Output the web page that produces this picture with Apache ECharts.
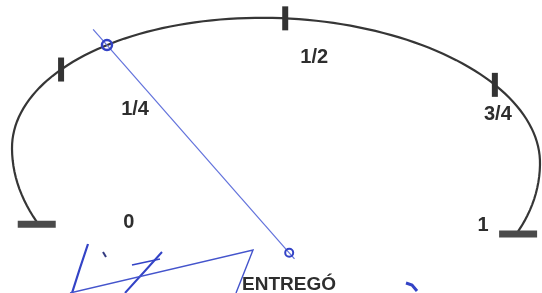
<!DOCTYPE html>
<html>
<head>
<meta charset="utf-8">
<script src="https://cdn.jsdelivr.net/npm/echarts@6/dist/echarts.min.js"></script>
<style>
  html, body { margin: 0; padding: 0; background: #ffffff; }
  #chart { width: 542px; height: 293px; }
</style>
</head>
<body>
<div id="chart"></div>
<script>
// fuel gauge data
var tickLabels = ['0', '1/4', '1/2', '3/4', '1'];
var tickValues = [0, 0.25, 0.5, 0.75, 1];
var needleValue = [0.315];
var caption = 'ENTREGÓ';

// gauge geometry: parametric angle (deg) of each tick on the dial outline
var scaleAngles = [205, 144.5, 88, 34, -23.5];
var lowerStretch = 175 / 139;   // the dial's sides run lower than a plain ellipse
var tilt = 0.0285;              // the scan is a little rotated
var pivot = [0.05, -0.705];
var labelShift = [[92, 1], [74, 40], [29, 39], [3, 30], [-35, -6]];

var chart = echarts.init(document.getElementById('chart'));

function angleOf(v) {
    for (var i = 0; i < tickValues.length - 1; i++) {
        if (v <= tickValues[i + 1]) {
            var f = (v - tickValues[i]) / (tickValues[i + 1] - tickValues[i]);
            return scaleAngles[i] + f * (scaleAngles[i + 1] - scaleAngles[i]);
        }
    }
    return scaleAngles[scaleAngles.length - 1];
}

function toPixel(api, x, y) {
    var p = api.coord([x, y]);
    var c = api.coord([0, 0]);
    p[1] += (p[0] - c[0]) * tilt;
    return p;
}

function dialPoint(api, deg) {
    var r = deg * Math.PI / 180;
    var s = Math.sin(r);
    if (s < 0) s *= lowerStretch;
    return toPixel(api, Math.cos(r), s);
}

var ink = '#363636';
var pen = '#3343c6';

option = {
    backgroundColor: '#ffffff',
    animation: false,
    title: {
        text: caption,
        left: 237,
        top: 270,
        textStyle: {
            fontFamily: 'Liberation Sans',
            fontWeight: 'bold',
            fontSize: 19,
            color: '#2e2e2e'
        }
    },
    grid: { left: 12, top: 18, width: 528, height: 278 },
    xAxis: { type: 'value', min: -1, max: 1, show: false },
    yAxis: { type: 'value', min: -1, max: 1, show: false },
    series: [{
        // dial outline
        type: 'custom',
        clip: false,
        data: [[0, 0]],
        renderItem: function (params, api) {
            var pts = [];
            var a0 = angleOf(0), a1 = angleOf(1);
            for (var k = 0; k <= 120; k++) {
                pts.push(dialPoint(api, a0 + (a1 - a0) * k / 120));
            }
            return {
                type: 'polyline',
                shape: { points: pts },
                style: { stroke: ink, lineWidth: 2.2, fill: null }
            };
        }
    }, {
        // tick marks and labels
        type: 'custom',
        clip: false,
        data: tickValues.map(function (v) { return [v, 0]; }),
        renderItem: function (params, api) {
            var i = params.dataIndex;
            var p = dialPoint(api, angleOf(api.value(0)));
            var end = i === 0 || i === tickValues.length - 1;
            var mark = end
                ? { x: p[0] - 19, y: p[1] - 1, width: 38, height: 7 }
                : { x: p[0] - 3, y: p[1] - 12, width: 6, height: 24 };
            return {
                type: 'group',
                children: [{
                    type: 'rect',
                    shape: mark,
                    style: { fill: end ? '#4a4a4a' : '#333333' }
                }, {
                    type: 'text',
                    x: p[0] + labelShift[i][0],
                    y: p[1] + labelShift[i][1],
                    style: {
                        text: tickLabels[i],
                        align: 'center',
                        verticalAlign: 'middle',
                        font: 'bold 20px "Liberation Sans"',
                        fill: '#2e2e2e'
                    }
                }]
            };
        }
    }, {
        // needle
        type: 'custom',
        clip: false,
        data: needleValue.map(function (v) { return [v, 0]; }),
        renderItem: function (params, api) {
            var tip = dialPoint(api, angleOf(api.value(0)));
            var base = toPixel(api, pivot[0], pivot[1]);
            var dx = tip[0] - base[0], dy = tip[1] - base[1];
            var len = Math.sqrt(dx * dx + dy * dy);
            var ux = dx / len, uy = dy / len;
            return {
                type: 'group',
                children: [{
                    type: 'line',
                    shape: {
                        x1: base[0] - ux * 8, y1: base[1] - uy * 8,
                        x2: tip[0] + ux * 21, y2: tip[1] + uy * 21
                    },
                    style: { stroke: '#6272dc', lineWidth: 1.2 }
                }, {
                    type: 'circle',
                    shape: { cx: tip[0], cy: tip[1], r: 5 },
                    style: { stroke: pen, lineWidth: 2.5, fill: null }
                }, {
                    type: 'circle',
                    shape: { cx: base[0], cy: base[1], r: 4 },
                    style: { stroke: pen, lineWidth: 2, fill: null }
                }]
            };
        }
    }],
    graphic: [
        // signature scribble under the dial
        { type: 'polyline', shape: { points: [[88, 244], [80, 268], [72, 293]] }, style: { stroke: pen, lineWidth: 2.2, fill: null } },
        { type: 'polyline', shape: { points: [[162, 252], [144, 272], [125, 293]] }, style: { stroke: pen, lineWidth: 2, fill: null } },
        { type: 'polyline', shape: { points: [[132, 265], [160, 259]] }, style: { stroke: pen, lineWidth: 1.5, fill: null } },
        { type: 'polyline', shape: { points: [[70, 293], [253, 250], [236, 293]] }, style: { stroke: '#4454cc', lineWidth: 1.4, fill: null } },
        { type: 'polyline', shape: { points: [[103, 252], [106, 257]] }, style: { stroke: '#333a80', lineWidth: 2, fill: null } },
        { type: 'polyline', shape: { points: [[406, 283], [412, 285], [417, 291]] }, style: { stroke: pen, lineWidth: 3, fill: null } }
    ]
};

chart.setOption(option);
</script>
</body>
</html>
